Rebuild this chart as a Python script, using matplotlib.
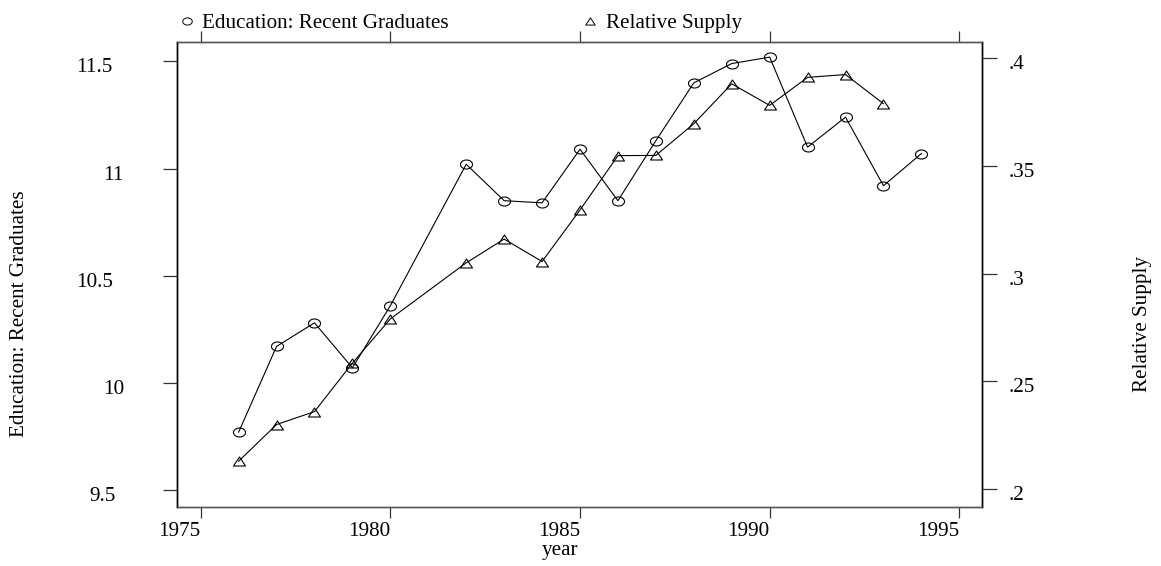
import numpy as np
import matplotlib
matplotlib.use("Agg")
import matplotlib.pyplot as plt
from matplotlib.path import Path
from matplotlib.transforms import ScaledTranslation
from matplotlib.lines import Line2D

# ---- data ----
edu_years = [1976, 1977, 1978, 1979, 1980, 1982, 1983, 1984, 1985, 1986,
             1987, 1988, 1989, 1990, 1991, 1992, 1993, 1994]
edu_values = [9.77, 10.17, 10.28, 10.07, 10.36, 11.02, 10.85, 10.84, 11.09, 10.85,
              11.13, 11.40, 11.49, 11.52, 11.10, 11.24, 10.92, 11.07]

supply_years = [1976, 1977, 1978, 1979, 1980, 1982, 1983, 1984, 1985, 1986,
                1987, 1988, 1989, 1990, 1991, 1992, 1993]
supply_values = [0.213, 0.230, 0.236, 0.2585, 0.279, 0.305, 0.316, 0.3056, 0.3295, 0.3547,
                 0.3548, 0.3695, 0.388, 0.378, 0.391, 0.3923, 0.3788]

x_ticks = [1975, 1980, 1985, 1990, 1995]
x_ticklabels = ["1975", "1980", "1985", "1990", "1995"]
left_ticks = [9.5, 10, 10.5, 11, 11.5]
left_ticklabels = ["9.5", "10", "10.5", "11", "11.5"]
right_ticks = [0.2, 0.25, 0.3, 0.35, 0.4]
right_ticklabels = [".2", ".25", ".3", ".35", ".4"]

label_left = "Education: Recent Graduates"
label_right = "Relative Supply"
label_x = "year"

# ---- style ----
FONT = "Liberation Serif"
FS = 15.2
plt.rcParams["font.family"] = [FONT, "DejaVu Serif"]

W, H = 1161, 566
DPI = 100
fig = plt.figure(figsize=(W / DPI, H / DPI), dpi=DPI)
fig.patch.set_facecolor("white")

L, R, T, B = 177.3, 982.3, 42.0, 506.7
ax = fig.add_axes([L / W, 1 - B / H, (R - L) / W, (B - T) / H])
ax2 = ax.twinx()

# custom markers: slightly wide ellipse and triangle
theta = np.linspace(0, 2 * np.pi, 60)
ell = Path(np.column_stack([np.cos(theta), 0.75 * np.sin(theta)]), closed=True)
tri = Path([(-1, -0.75), (1, -0.75), (0, 0.75), (-1, -0.75)], closed=True)

ms = 12 * 72 / DPI
lw = 0.8
ax.plot(edu_years, edu_values, color="black", lw=lw, marker=ell, ms=ms,
        mfc="none", mec="black", mew=0.8, zorder=3)
ax2.plot(supply_years, supply_values, color="black", lw=lw, marker=tri, ms=ms,
         mfc="none", mec="black", mew=0.8, zorder=3)

ax.set_xlim(1974.383, 1995.606)
ax.set_ylim(9.422, 11.5906)
ax2.set_ylim(0.1919, 0.4074)

# spines
for a in (ax, ax2):
    a.spines["left"].set_color("black")
    a.spines["right"].set_color("black")
    a.spines["top"].set_color("#555555")
    a.spines["bottom"].set_color("#555555")
    for s in a.spines.values():
        s.set_linewidth(1.0)

# x ticks (bottom labelled, top unlabelled)
ax.set_xticks(x_ticks)
ax.set_xticklabels(x_ticklabels, fontsize=FS, family=FONT)
ax.tick_params(axis="x", which="major", direction="out", length=8, width=0.9,
               color="#333333", top=True, bottom=True, labeltop=False, pad=3)
plt.setp(ax.get_xticklabels(), ha="right")
ax2.tick_params(axis="x", which="both", top=False, bottom=False, labeltop=False, labelbottom=False)

# left y ticks (Stata-like placement: left edge offset by character count)
ax.set_yticks(left_ticks)
ax.set_yticklabels(left_ticklabels, fontsize=FS, family=FONT)
ax.tick_params(axis="y", direction="out", length=10, width=0.9, color="#333333", pad=24)
CHAR_W = 13.5  # px per character, used for label anchoring
for lbl in ax.get_yticklabels():
    n = len(lbl.get_text())
    lbl.set_ha("left")
    lbl.set_transform(lbl.get_transform() +
                      ScaledTranslation(-n * CHAR_W / DPI, -4 / DPI, fig.dpi_scale_trans))

# right y ticks
ax2.set_yticks(right_ticks)
ax2.set_yticklabels(right_ticklabels, fontsize=FS, family=FONT)
ax2.tick_params(axis="y", direction="out", length=10.5, width=0.9, color="#333333", pad=8.5)
shift_down = ScaledTranslation(0, -4 / DPI, fig.dpi_scale_trans)
for lbl in ax2.get_yticklabels():
    lbl.set_transform(lbl.get_transform() + shift_down)

# axis titles
fig.text(560 / W, 1 - 550 / H, label_x, ha="center", va="center", fontsize=FS, family=FONT)
fig.text(20 / W, 1 - 313.5 / H, label_left, ha="center", va="center", rotation=90,
         fontsize=FS, family=FONT)
fig.text(1143 / W, 1 - 324 / H, label_right, ha="center", va="center", rotation=90,
         fontsize=FS, family=FONT)

# legend above the plot
lms = 9.5 * 72 / DPI
fig.add_artist(Line2D([187 / W], [1 - 21 / H], transform=fig.transFigure, marker=ell,
                      ms=lms, mfc="none", mec="black", mew=0.7, ls="none"))
fig.add_artist(Line2D([590 / W], [1 - 21 / H], transform=fig.transFigure, marker=tri,
                      ms=lms, mfc="none", mec="black", mew=0.7, ls="none"))
fig.text(202 / W, 1 - 28.3 / H, label_left, ha="left", va="baseline", fontsize=FS, family=FONT)
fig.text(606 / W, 1 - 28.3 / H, label_right, ha="left", va="baseline", fontsize=FS, family=FONT)

fig.savefig("out.png", dpi=DPI, facecolor="white")
